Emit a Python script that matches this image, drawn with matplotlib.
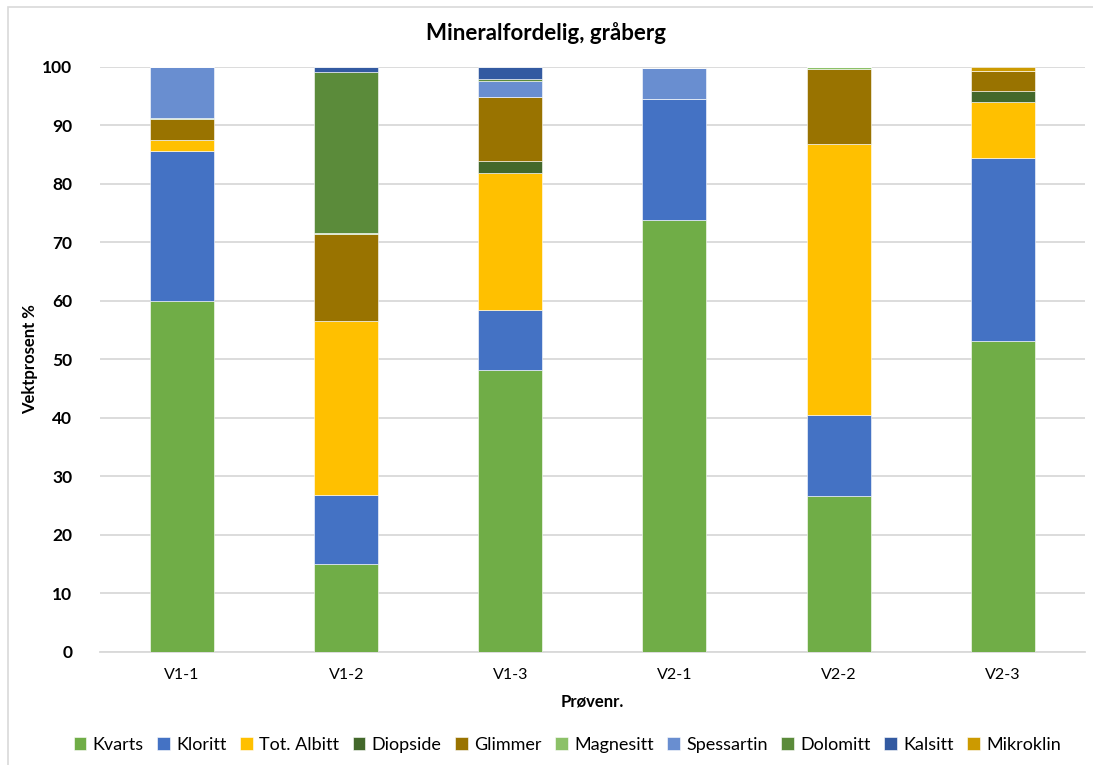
import matplotlib
matplotlib.use("Agg")
import matplotlib.pyplot as plt
import numpy as np
from matplotlib.patches import Rectangle

plt.rcParams['font.family'] = ['Lato', 'DejaVu Sans']

samples = ["V1-1", "V1-2", "V1-3", "V2-1", "V2-2", "V2-3"]

kvarts     = [60.0, 15.0, 48.2, 73.8, 26.6, 53.1]
kloritt    = [25.6, 11.8, 10.2, 20.6, 13.9, 31.2]
tot_albitt = [1.9, 29.7, 23.4, 0.0, 46.2, 9.6]
diopside   = [0.0, 0.0, 2.1, 0.0, 0.0, 2.0]
glimmer    = [3.5, 14.9, 10.9, 0.0, 12.8, 3.4]
magnesitt  = [0.2, 0.2, 0.0, 0.0, 0.5, 0.0]
spessartin = [8.8, 0.0, 2.8, 5.3, 0.0, 0.0]
dolomitt   = [0.0, 27.5, 0.3, 0.0, 0.0, 0.0]
kalsitt    = [0.0, 0.9, 2.1, 0.0, 0.0, 0.0]
mikroklin  = [0.0, 0.0, 0.0, 0.0, 0.0, 0.7]

series = [
    ("Kvarts", kvarts, "#70AD47"),
    ("Kloritt", kloritt, "#4472C4"),
    ("Tot. Albitt", tot_albitt, "#FFC000"),
    ("Diopside", diopside, "#43682B"),
    ("Glimmer", glimmer, "#997300"),
    ("Magnesitt", magnesitt, "#8CC168"),
    ("Spessartin", spessartin, "#698ED0"),
    ("Dolomitt", dolomitt, "#5B8B3A"),
    ("Kalsitt", kalsitt, "#335AA1"),
    ("Mikroklin", mikroklin, "#CC9A00"),
]

fig = plt.figure(figsize=(10.93, 7.65), dpi=100)
ax = fig.add_axes([0.0915, 0.148, 0.901, 0.765])

x = np.arange(len(samples))
bottom = np.zeros(len(samples))
for name, vals, color in series:
    vals = np.array(vals)
    ax.bar(x, vals, 0.39, bottom=bottom, color=color, label=name,
           edgecolor="white", linewidth=0.4, zorder=3)
    bottom += vals

ax.set_xlim(-0.5, len(samples) - 0.5)
ax.set_ylim(0, 100)
ax.set_yticks(np.arange(0, 101, 10))
ax.yaxis.grid(True, color="#D9D9D9", linewidth=1.3, zorder=0)
ax.set_axisbelow(True)
for s in ["top", "right", "left"]:
    ax.spines[s].set_visible(False)
ax.spines["bottom"].set_color("#D9D9D9")
ax.spines["bottom"].set_linewidth(1.3)
ax.tick_params(axis="both", length=0)
ax.tick_params(axis="y", labelsize=12.5, pad=20)
ax.tick_params(axis="x", labelsize=11.5, pad=12)
for lbl in ax.get_yticklabels():
    lbl.set_fontweight("bold")
ax.set_xticks(x)
ax.set_xticklabels(samples)

ax.set_ylabel("Vektprosent %", fontsize=12, fontweight="bold")
ax.yaxis.set_label_coords(-0.063, 0.5)
ax.set_xlabel("Prøvenr.", fontsize=12, fontweight="bold", labelpad=8)
fig.text(0.5, 0.957, "Mineralfordelig, gråberg", fontsize=16, fontweight="bold",
         ha="center", va="center")

fig.legend(loc="center", bbox_to_anchor=(0.519, 0.026), ncol=10, frameon=False,
           fontsize=13, handlelength=0.7, handleheight=0.7, handletextpad=0.35,
           columnspacing=0.75)

fig.patches.append(Rectangle((0.0075, -0.02), 1.2, 1.011, transform=fig.transFigure,
                             fill=False, edgecolor="#D9D9D9", linewidth=1.2))

fig.savefig("out.png", dpi=100, facecolor="white")
